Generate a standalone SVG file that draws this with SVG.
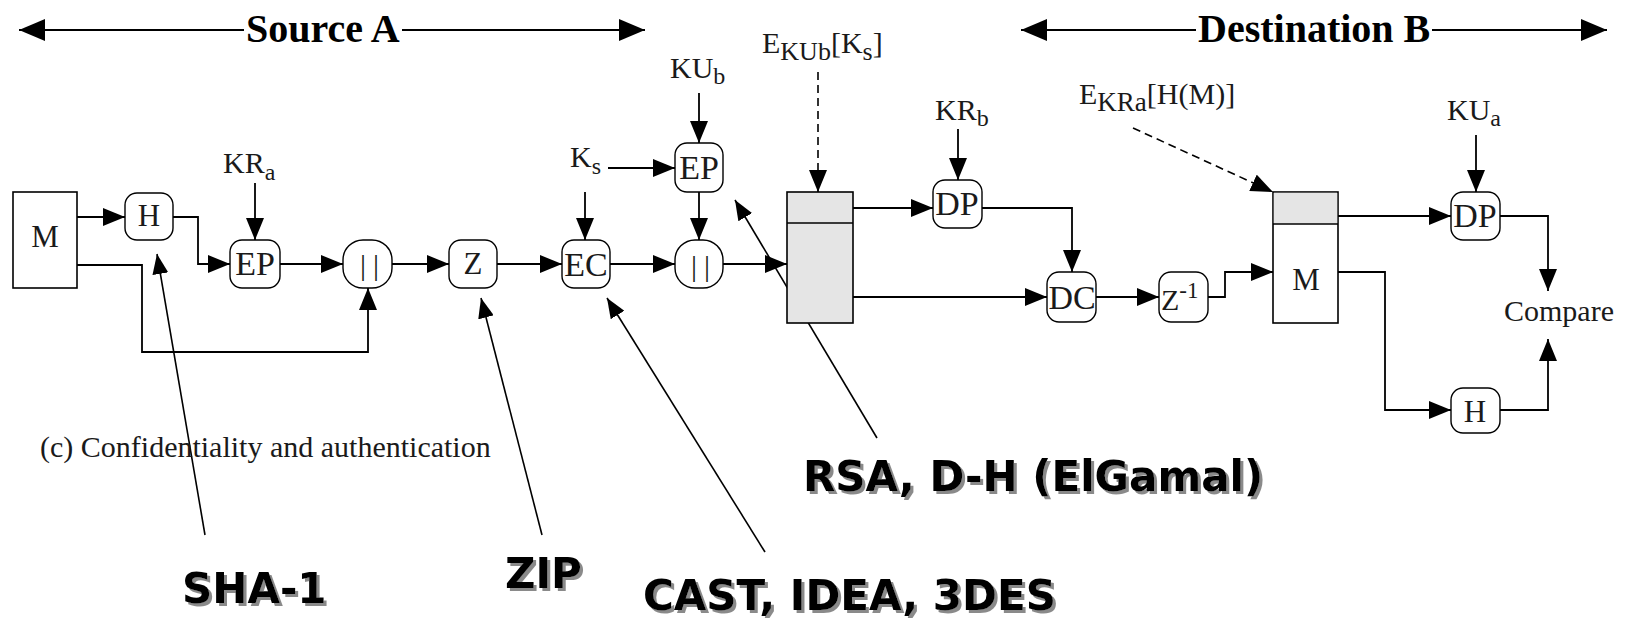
<svg xmlns="http://www.w3.org/2000/svg" width="1632" height="618" viewBox="0 0 1632 618">
<style>
.t{font-family:"Liberation Serif","Times New Roman",serif;fill:#1a1a1a;font-size:30px}
.n1{font-size:31px;text-anchor:middle}
.n2{font-size:34px;text-anchor:middle}
.hd{font-family:"Liberation Serif","Times New Roman",serif;font-weight:bold;font-size:40px;fill:#000}
.an{font-family:"DejaVu Sans",Verdana,sans-serif;font-weight:bold;font-size:42px;fill:#000}
.node{fill:#fff;stroke:#000;stroke-width:1.4}
.box{stroke:#000;stroke-width:1.6}
.c{fill:none;stroke:#000;stroke-width:1.8}
.d{fill:none;stroke:#000;stroke-width:1.6;stroke-dasharray:8 5}
.a{fill:none;stroke:#000;stroke-width:1.6}
</style>
<defs>
<marker id="ah" markerUnits="userSpaceOnUse" markerWidth="22" markerHeight="18" refX="22" refY="9" orient="auto"><path d="M0,0 L22,9 L0,18 z" fill="#000"/></marker>
<marker id="as" markerUnits="userSpaceOnUse" markerWidth="20" markerHeight="16" refX="20" refY="8" orient="auto"><path d="M0,0 L20,8 L0,16 z" fill="#000"/></marker>
<marker id="al" markerUnits="userSpaceOnUse" markerWidth="26" markerHeight="22" refX="26" refY="11" orient="auto"><path d="M0,0 L26,11 L0,22 z" fill="#000"/></marker>
<filter id="sh" x="-10%" y="-20%" width="120%" height="150%"><feDropShadow dx="3" dy="3" stdDeviation="0.6" flood-color="#8a8a8a" flood-opacity="1"/></filter>
</defs>

<g id="header-source">
<line class="c" x1="244" y1="30" x2="19" y2="30" marker-end="url(#al)"/>
<line class="c" x1="402" y1="30" x2="645" y2="30" marker-end="url(#al)"/>
<text class="hd" x="246" y="42">Source A</text>
</g>
<g id="header-dest">
<line class="c" x1="1196" y1="30" x2="1021" y2="30" marker-end="url(#al)"/>
<line class="c" x1="1432" y1="30" x2="1607" y2="30" marker-end="url(#al)"/>
<text class="hd" x="1198" y="42">Destination B</text>
</g>

<g id="connectors">
<path class="c" d="M77,217 H125" marker-end="url(#ah)"/>
<path class="c" d="M173,217 H198 V264 H230" marker-end="url(#ah)"/>
<path class="c" d="M255,183 V240" marker-end="url(#ah)"/>
<path class="c" d="M280,264 H343" marker-end="url(#ah)"/>
<path class="c" d="M77,265 H142 V352 H368 V288" marker-end="url(#ah)"/>
<path class="c" d="M392,264 H449" marker-end="url(#ah)"/>
<path class="c" d="M497,264 H562" marker-end="url(#ah)"/>
<path class="c" d="M585,192 V240" marker-end="url(#ah)"/>
<path class="c" d="M610,264 H675" marker-end="url(#ah)"/>
<path class="c" d="M608,168 H675" marker-end="url(#ah)"/>
<path class="c" d="M699,93 V143" marker-end="url(#ah)"/>
<path class="c" d="M699,192 V240" marker-end="url(#ah)"/>
<path class="c" d="M723,264 H787" marker-end="url(#ah)"/>
<path class="d" d="M818,72 V192" marker-end="url(#ah)"/>
<path class="c" d="M853,208 H933" marker-end="url(#ah)"/>
<path class="c" d="M958,129 V180" marker-end="url(#ah)"/>
<path class="c" d="M982,208 H1072 V272" marker-end="url(#ah)"/>
<path class="c" d="M853,297 H1047" marker-end="url(#ah)"/>
<path class="c" d="M1096,297 H1159" marker-end="url(#ah)"/>
<path class="c" d="M1208,297 H1225 V272 H1273" marker-end="url(#ah)"/>
<path class="d" d="M1133,128 L1273,192" marker-end="url(#ah)"/>
<path class="c" d="M1338,216 H1451" marker-end="url(#ah)"/>
<path class="c" d="M1476,135 V192" marker-end="url(#ah)"/>
<path class="c" d="M1500,216 H1548 V291" marker-end="url(#ah)"/>
<path class="c" d="M1338,272 H1385 V410 H1451" marker-end="url(#ah)"/>
<path class="c" d="M1500,410 H1548 V339" marker-end="url(#ah)"/>
<path class="a" d="M205,535 L157,254" marker-end="url(#as)"/>
<path class="a" d="M542,535 L481,298" marker-end="url(#as)"/>
<path class="a" d="M765,552 L607,298" marker-end="url(#as)"/>
<path class="a" d="M877,438 L735,200" marker-end="url(#as)"/>
</g>

<g id="src-M"><rect class="box" x="13" y="192" width="64" height="96" fill="#fff"/><text class="t n1" x="45" y="247">M</text></g>
<g id="src-H"><rect class="node" x="125" y="193" width="48" height="47" rx="12"/><text class="t n1" x="149" y="226">H</text></g>
<g id="src-EP"><rect class="node" x="230" y="240" width="50" height="48" rx="12"/><text class="t n2" x="255" y="275">EP</text></g>
<g id="src-KRa"><text class="t" x="223" y="173">KR<tspan font-size="24" dy="7">a</tspan></text></g>
<g id="src-concat1"><rect class="node" x="343" y="240" width="49" height="48" rx="20"/><text class="t" x="360" y="275" letter-spacing="7">||</text></g>
<g id="src-Z"><rect class="node" x="449" y="240" width="48" height="48" rx="12"/><text class="t n1" x="473" y="274">Z</text></g>
<g id="src-EC"><rect class="node" x="562" y="240" width="48" height="48" rx="12"/><text class="t n2" x="586" y="276">EC</text></g>
<g id="src-Ks"><text class="t" x="570" y="167">K<tspan font-size="24" dy="7">s</tspan></text></g>
<g id="src-EP2"><rect class="node" x="675" y="143" width="48" height="49" rx="12"/><text class="t n2" x="699" y="179">EP</text></g>
<g id="src-KUb"><text class="t" x="670" y="78">KU<tspan font-size="24" dy="6">b</tspan></text></g>
<g id="src-concat2"><rect class="node" x="675" y="240" width="48" height="48" rx="20"/><text class="t" x="691" y="276" letter-spacing="7">||</text></g>

<g id="msg-box"><rect class="box" x="787" y="192" width="66" height="131" fill="#e5e5e5"/><line class="box" x1="787" y1="223" x2="853" y2="223"/></g>
<g id="lbl-EKUb"><text class="t" x="762" y="53" font-size="32">E<tspan font-size="26" dy="7">KUb</tspan><tspan dy="-7">[K</tspan><tspan font-size="26" dy="7">s</tspan><tspan dy="-7">]</tspan></text></g>

<g id="dst-DP"><rect class="node" x="933" y="180" width="49" height="48" rx="12"/><text class="t n2" x="957" y="215">DP</text></g>
<g id="dst-KRb"><text class="t" x="935" y="120">KR<tspan font-size="24" dy="6">b</tspan></text></g>
<g id="dst-DC"><rect class="node" x="1047" y="272" width="49" height="50" rx="12"/><text class="t n2" x="1072" y="309">DC</text></g>
<g id="dst-Zinv"><rect class="node" x="1159" y="272" width="49" height="50" rx="12"/><text class="t" x="1161" y="310" font-size="32">Z<tspan font-size="23" dy="-12">-1</tspan></text></g>
<g id="lbl-EKRa"><text class="t" x="1079" y="104" font-size="34">E<tspan font-size="27" dy="7">KRa</tspan><tspan dy="-7">[H(M)]</tspan></text></g>
<g id="dst-M"><rect class="box" x="1273" y="192" width="65" height="131" fill="#fff"/><rect x="1273.8" y="192.8" width="63.4" height="31" fill="#e5e5e5"/><line class="box" x1="1273" y1="224" x2="1338" y2="224"/><text class="t n1" x="1306" y="290">M</text></g>
<g id="dst-DP2"><rect class="node" x="1451" y="192" width="49" height="48" rx="12"/><text class="t n2" x="1475" y="227">DP</text></g>
<g id="dst-KUa"><text class="t" x="1447" y="120">KU<tspan font-size="24" dy="6">a</tspan></text></g>
<g id="dst-H"><rect class="node" x="1451" y="388" width="49" height="45" rx="12"/><text class="t n1" x="1475" y="422">H</text></g>
<g id="dst-compare"><text class="t" x="1559" y="321" font-size="31" text-anchor="middle">Compare</text></g>

<g id="caption"><text class="t" x="40" y="457" font-size="31">(c) Confidentiality and authentication</text></g>

<g id="annotations" filter="url(#sh)">
<text class="an" x="182" y="603">SHA-1</text>
<text class="an" x="505" y="588">ZIP</text>
<text class="an" x="643" y="610" font-size="43">CAST, IDEA, 3DES</text>
<text class="an" x="803" y="491" font-size="43">RSA, D-H (ElGamal)</text>
</g>
</svg>
